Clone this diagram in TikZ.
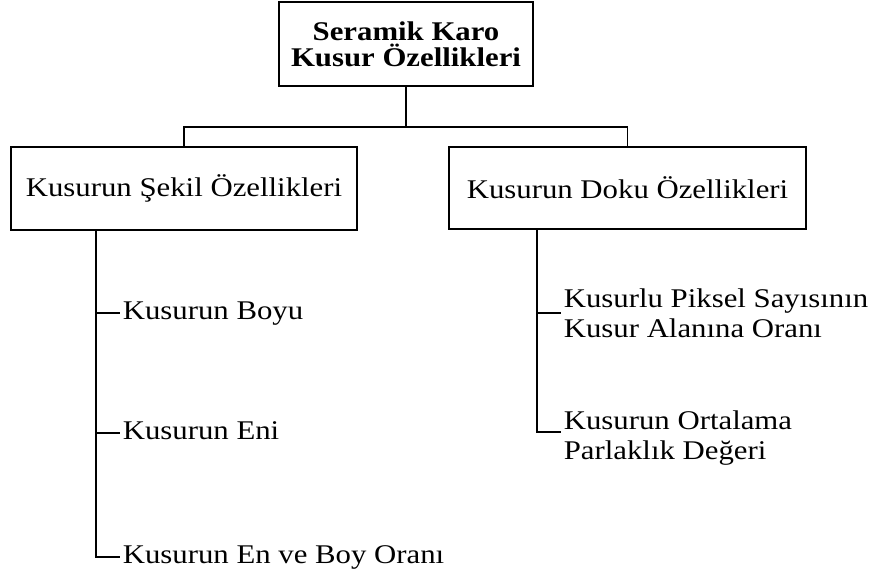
\documentclass[tikz,border=0pt]{standalone}
\usepackage{fontspec}
\setmainfont{Liberation Serif}[FakeStretch=1.14]
\begin{document}
\begin{tikzpicture}[x=1pt,y=-1pt,line width=1.7pt,
  font=\fontsize{27}{30}\selectfont,
  box/.style={draw,rectangle,inner sep=0pt},
  leaf/.style={anchor=west,inner xsep=2pt,inner ysep=0pt,align=left},
  oneline/.style={text height=18pt,text depth=6pt}]

\useasboundingbox (0,0) rectangle (876,578);

% Root
\node[box,minimum width=254pt,minimum height=84pt,align=center,
  font=\fontsize{27}{26}\selectfont\bfseries] (root) at (406,44)
{Seramik Karo\\Kusur Özellikleri};

% Two groups of features
\node[box,minimum width=346pt,minimum height=83pt] (shape) at (184,188.5)
{Kusurun Şekil Özellikleri};
\node[box,minimum width=357pt,minimum height=82pt] (texture) at (627.5,188)
{Kusurun Doku Özellikleri};

\coordinate (split) at (406,127);
\draw (root) -- (split);
\draw (shape) |- (split) -| (texture);

% Shape features
\node[leaf,oneline] (length) at (120,313) {Kusurun Boyu};
\node[leaf,oneline] (width) at (120,433) {Kusurun Eni};
\node[leaf,oneline] (ratio) at (120,557) {Kusurun En ve Boy Oranı};

\coordinate (sspine) at ([xshift=86pt]shape.south west);
\draw (sspine) |- (ratio.west);
\draw (sspine |- length.west) -- (length.west);
\draw (sspine |- width.west) -- (width.west);

% Texture features
\node[leaf] (pixels) at (561,313)
{Kusurlu Piksel Sayısının\\Kusur Alanına Oranı};
\node[leaf] (bright) at (561,438)
{Kusurun Ortalama\\Parlaklık Değeri};

\coordinate (tspine) at ([xshift=89pt]texture.south west);
\draw (tspine) |- ([yshift=6pt]bright.west);
\draw (tspine |- pixels.west) -- (pixels.west);

\end{tikzpicture}
\end{document}
